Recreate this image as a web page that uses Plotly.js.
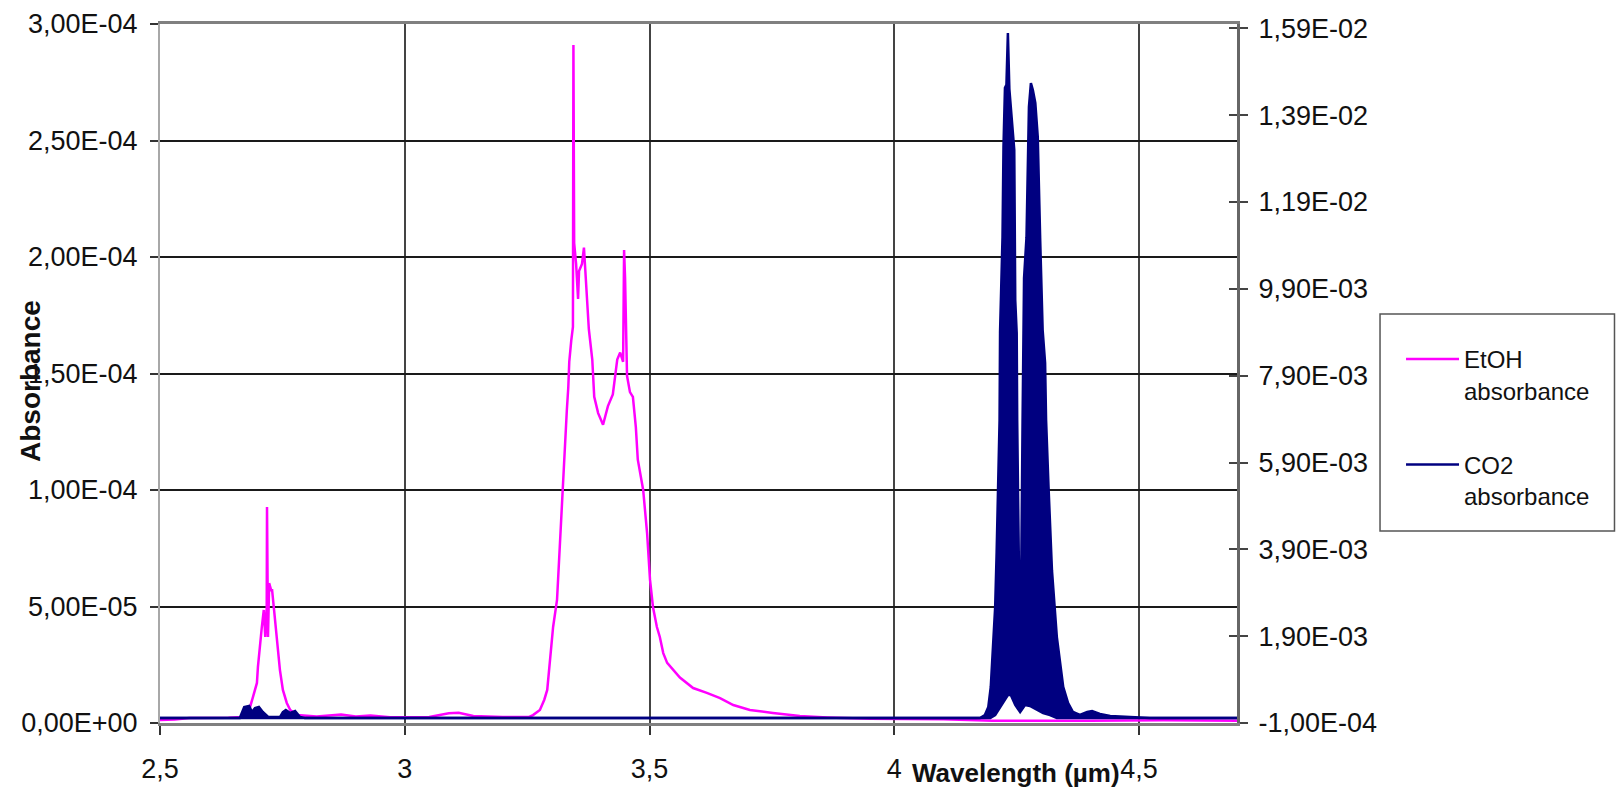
<!DOCTYPE html>
<html>
<head>
<meta charset="utf-8">
<script src="https://cdn.plot.ly/plotly-3.0.1.min.js"></script>
<style>
  html, body { margin: 0; padding: 0; background: #ffffff; }
  #chart { width: 1616px; height: 793px; }
</style>
</head>
<body>
<div id="chart"></div>
<script>
// ---- Data ----
const etohWavelength = [
  2.500, 2.530, 2.560, 2.600, 2.640, 2.670, 2.684, 2.690, 2.698, 2.700,
  2.704, 2.708, 2.712, 2.715, 2.718, 2.7186, 2.7206, 2.723, 2.727, 2.729,
  2.733, 2.737, 2.741, 2.745, 2.751, 2.759, 2.766, 2.780, 2.820, 2.870,
  2.900, 2.930, 2.970, 3.050, 3.090, 3.110, 3.140, 3.200, 3.254, 3.262,
  3.276, 3.285, 3.291, 3.297, 3.303, 3.311, 3.317, 3.323, 3.327, 3.331,
  3.334, 3.336, 3.340, 3.3435, 3.3445, 3.346, 3.350, 3.354, 3.356, 3.362,
  3.366, 3.370, 3.372, 3.376, 3.383, 3.387, 3.395, 3.405, 3.415, 3.425,
  3.434, 3.440, 3.446, 3.448, 3.450, 3.454, 3.460, 3.466, 3.472, 3.476,
  3.487, 3.495, 3.501, 3.507, 3.515, 3.521, 3.528, 3.536, 3.562, 3.589,
  3.617, 3.644, 3.671, 3.705, 3.752, 3.807, 3.863, 3.950, 4.100, 4.200,
  4.400, 4.550, 4.700
];
const etohAbsorbance = [
  1.3e-6, 1.5e-6, 2.1e-6, 2.0e-6, 2.2e-6, 2.6e-6, 6.9e-6, 1.12e-5, 1.72e-5, 2.40e-5,
  3.43e-5, 4.12e-5, 4.85e-5, 3.69e-5, 4.98e-5, 9.27e-5, 3.69e-5, 6.0e-5, 5.7e-5, 5.7e-5,
  4.85e-5, 3.99e-5, 3.13e-5, 2.27e-5, 1.42e-5, 8.6e-6, 5.6e-6, 3.4e-6, 2.8e-6, 3.6e-6,
  2.8e-6, 3.2e-6, 2.5e-6, 2.6e-6, 4.2e-6, 4.4e-6, 3.0e-6, 2.6e-6, 2.6e-6, 3.4e-6,
  5.6e-6, 1.0e-5, 1.42e-5, 2.7e-5, 4.12e-5, 5.28e-5, 7.85e-5, 1.0e-4, 1.21e-4, 1.34e-4,
  1.44e-4, 1.55e-4, 1.64e-4, 1.70e-4, 2.91e-4, 2.06e-4, 1.97e-4, 1.82e-4, 1.94e-4, 1.97e-4,
  2.04e-4, 1.91e-4, 1.80e-4, 1.69e-4, 1.56e-4, 1.40e-4, 1.33e-4, 1.28e-4, 1.36e-4, 1.41e-4,
  1.56e-4, 1.59e-4, 1.55e-4, 2.03e-4, 1.91e-4, 1.49e-4, 1.42e-4, 1.40e-4, 1.27e-4, 1.13e-4,
  1.00e-4, 8.15e-5, 6.14e-5, 4.98e-5, 4.12e-5, 3.69e-5, 3.0e-5, 2.58e-5, 1.95e-5, 1.50e-5,
  1.29e-5, 1.07e-5, 7.7e-6, 5.6e-6, 4.3e-6, 3.0e-6, 2.4e-6, 1.8e-6, 1.6e-6, 1.0e-6,
  1.0e-6, 1.2e-6, 1.0e-6
];

// CO2: dense rotational lines, drawn as the band between lower and upper envelopes
const co2UpperWavelength = [
  2.500, 2.663, 2.672, 2.682, 2.688, 2.694, 2.702, 2.710, 2.721, 2.745,
  2.751, 2.757, 2.766, 2.776, 2.786, 2.796, 4.134, 4.175, 4.185, 4.192,
  4.197, 4.201, 4.206, 4.209, 4.212, 4.215, 4.216, 4.218, 4.221, 4.223,
  4.226, 4.229, 4.232, 4.235, 4.238, 4.245, 4.247, 4.250, 4.251, 4.252,
  4.255, 4.257, 4.259, 4.262, 4.263, 4.265, 4.270, 4.272, 4.275, 4.279,
  4.283, 4.288, 4.293, 4.298, 4.303, 4.308, 4.310, 4.315, 4.322, 4.332,
  4.345, 4.355, 4.365, 4.379, 4.394, 4.404, 4.420, 4.441, 4.482, 4.522,
  4.700
];
const co2Upper = [
  1.5e-5, 1.5e-5, 2.69e-4, 2.92e-4, 1.53e-4, 2.45e-4, 2.69e-4, 1.53e-4, 3.8e-5, 3.8e-5,
  1.53e-4, 2.0e-4, 1.3e-4, 1.76e-4, 3.8e-5, 1.5e-5, 1.5e-5, 1.5e-5, 8.4e-5, 2.69e-4,
  7.3e-4, 1.51e-3, 2.57e-3, 3.82e-3, 5.34e-3, 6.88e-3, 8.91e-3, 9.60e-3, 1.109e-2, 1.317e-2,
  1.453e-2, 1.46e-2, 1.579e-2, 1.45e-2, 1.409e-2, 1.310e-2, 9.64e-3, 8.88e-3, 6.88e-3, 5.5e-3,
  3.03e-3, 1.35e-3, 3.03e-3, 6.88e-3, 7.64e-3, 1.015e-2, 1.109e-2, 1.248e-2, 1.409e-2, 1.464e-2,
  1.448e-2, 1.418e-2, 1.34e-2, 1.102e-2, 8.95e-3, 8.19e-3, 6.88e-3, 5.34e-3, 3.42e-3, 1.88e-3,
  7.3e-4, 3.6e-4, 1.53e-4, 8.4e-5, 1.53e-4, 1.76e-4, 1.07e-4, 6.1e-5, 3.8e-5, 1.5e-5,
  1.5e-5
];
const co2LowerWavelength = [
  2.500, 4.196, 4.206, 4.222, 4.232, 4.238, 4.247, 4.257, 4.267, 4.277,
  4.291, 4.304, 4.318, 4.332, 4.700
];
const co2Lower = [
  1.5e-5, 1.5e-5, 8.4e-5, 3.6e-4, 5.45e-4, 5.45e-4, 3.15e-4, 1.53e-4, 3.15e-4, 2.92e-4,
  2.0e-4, 1.3e-4, 8.4e-5, 1.5e-5, 1.5e-5
];

// ---- Tick labels ----
const xTickValues = [2.5, 3, 3.5, 4, 4.5];
const xTickLabels = ['2,5', '3', '3,5', '4', '4,5'];
const leftTickValues = [0, 5e-5, 1e-4, 1.5e-4, 2e-4, 2.5e-4, 3e-4];
const leftTickLabels = ['0,00E+00', '5,00E-05', '1,00E-04', '1,50E-04', '2,00E-04', '2,50E-04', '3,00E-04'];
const rightTickValues = [-1e-4, 1.9e-3, 3.9e-3, 5.9e-3, 7.9e-3, 9.9e-3, 1.19e-2, 1.39e-2, 1.59e-2];
const rightTickLabels = ['-1,00E-04', '1,90E-03', '3,90E-03', '5,90E-03', '7,90E-03', '9,90E-03', '1,19E-02', '1,39E-02', '1,59E-02'];

const FONT = 'Liberation Sans, Arial, Helvetica, sans-serif';
const MAGENTA = '#FF00FF';
const NAVY = '#000080';

const traces = [
  {
    x: etohWavelength, y: etohAbsorbance, yaxis: 'y', type: 'scatter', mode: 'lines',
    name: 'EtOH<br>absorbance', legendgroup: 'etoh',
    line: { color: MAGENTA, width: 2.5 }
  },
  {
    x: co2LowerWavelength, y: co2Lower, yaxis: 'y2', type: 'scatter', mode: 'lines',
    name: 'CO2 lower', legendgroup: 'co2', showlegend: false,
    line: { color: NAVY, width: 2.5 }
  },
  {
    x: co2UpperWavelength, y: co2Upper, yaxis: 'y2', type: 'scatter', mode: 'lines',
    name: 'CO2 upper', legendgroup: 'co2', showlegend: false,
    fill: 'tonexty', fillcolor: NAVY,
    line: { color: NAVY, width: 2.5 }
  },
  {
    x: [null], y: [null], yaxis: 'y2', type: 'scatter', mode: 'lines',
    name: 'CO2<br>absorbance', legendgroup: 'co2',
    line: { color: NAVY, width: 2.5 }
  },
  {
    x: [null], y: [null], yaxis: 'y3', type: 'scatter', mode: 'lines',
    showlegend: false, hoverinfo: 'skip'
  }
];

const layout = {
  width: 1616, height: 793,
  margin: { l: 160, r: 379, t: 24, b: 70, pad: 0 },
  paper_bgcolor: '#ffffff', plot_bgcolor: '#ffffff',
  font: { family: FONT, size: 27, color: '#111111' },
  showlegend: true,
  xaxis: {
    range: [2.5, 4.7], tickmode: 'array', tickvals: xTickValues, ticktext: xTickLabels,
    showgrid: true, gridcolor: '#444444', gridwidth: 2,
    showline: true, linecolor: '#808080', linewidth: 3, mirror: true,
    ticks: 'outside', ticklen: 9, tickwidth: 2, tickcolor: '#333333',
    ticklabelstandoff: 11,
    zeroline: false, tickfont: { size: 27, family: FONT, color: '#111111' }
  },
  yaxis: {
    range: [0, 3e-4], tickmode: 'array', tickvals: leftTickValues, ticktext: leftTickLabels,
    showgrid: true, gridcolor: '#1a1a1a', gridwidth: 2,
    showline: true, linecolor: '#a8a8a8', linewidth: 2,
    ticks: 'outside', ticklen: 8, tickwidth: 2, tickcolor: '#333333',
    ticklabelstandoff: 7,
    zeroline: false, tickfont: { size: 27, family: FONT, color: '#111111' }
  },
  yaxis2: {
    range: [-1e-4, 1.6e-2], overlaying: 'y', side: 'right', anchor: 'x',
    tickmode: 'array', tickvals: rightTickValues, ticktext: rightTickLabels,
    showgrid: false, zeroline: false,
    showline: true, linecolor: '#666666', linewidth: 3,
    ticks: 'outside', ticklen: 8, tickwidth: 2, tickcolor: '#444444',
    ticklabelstandoff: 5,
    tickfont: { size: 27, family: FONT, color: '#111111' }
  },
  yaxis3: {
    range: [-1e-4, 1.6e-2], overlaying: 'y', side: 'right', anchor: 'x',
    tickmode: 'array', tickvals: rightTickValues, showticklabels: false,
    showgrid: false, zeroline: false, showline: false,
    ticks: 'inside', ticklen: 8, tickwidth: 2, tickcolor: '#444444'
  },
  legend: {
    x: 1.1523, y: 0.5522, xanchor: 'left', yanchor: 'top',
    bgcolor: 'rgba(0,0,0,0)', borderwidth: 0,
    font: { size: 24, family: FONT, color: '#111111' },
    valign: 'top', tracegroupgap: 40, traceorder: 'grouped', itemwidth: 53
  },
  shapes: [
    {
      type: 'rect', xref: 'paper', yref: 'paper', layer: 'below',
      x0: 1.1328, x1: 1.3505, y0: 0.2747, y1: 0.5851,
      line: { color: '#555555', width: 1.5 }, fillcolor: '#ffffff'
    }
  ],
  annotations: [
    {
      text: '<b>Wavelength (µm)</b>', xref: 'paper', yref: 'paper',
      x: 0.7948, y: -0.0720, xanchor: 'center', yanchor: 'middle', showarrow: false,
      font: { size: 26, family: FONT, color: '#111111' }
    },
    {
      text: '<b>Absorbance</b>', xref: 'paper', yref: 'paper', textangle: -90,
      x: -0.1198, y: 0.4893, xanchor: 'center', yanchor: 'middle', showarrow: false,
      font: { size: 28, family: FONT, color: '#111111' }
    }
  ]
};

Plotly.newPlot('chart', traces, layout, { displayModeBar: false, staticPlot: true }).then(function (gd) {
  // lengthen legend line samples to match the reference
  gd.querySelectorAll('.legendlines path').forEach(function (p) {
    p.setAttribute('d', 'M5,0h53');
  });
});
</script>
</body>
</html>
